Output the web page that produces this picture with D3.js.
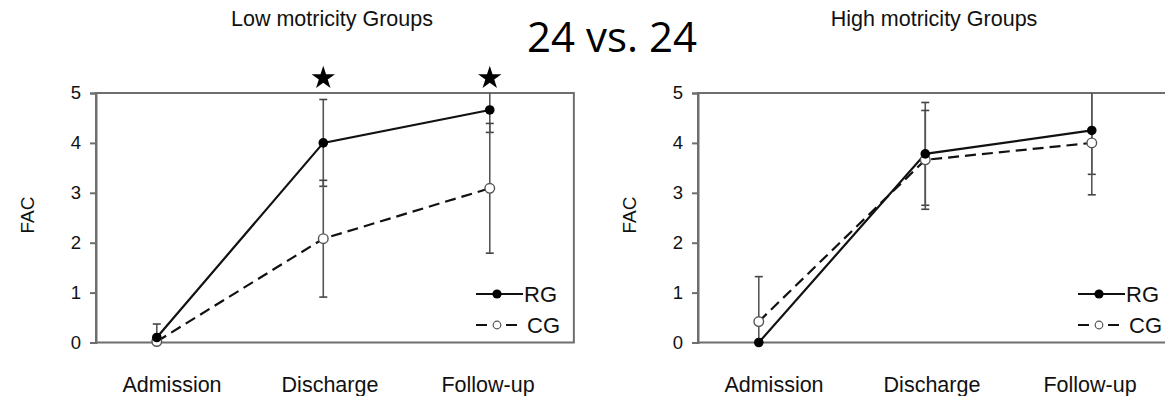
<!DOCTYPE html>
<html>
<head>
<meta charset="utf-8">
<script src="https://cdn.jsdelivr.net/npm/d3@7"></script>
<style>
  body { margin: 0; background: #fff; }
  svg text { font-family: "Liberation Sans", Arial, sans-serif; fill: #111; }
</style>
</head>
<body>
<svg id="chart" width="1165" height="396"></svg>
<script>
// ---- data
const categories = ["Admission", "Discharge", "Follow-up"];
const yTicks = [0, 1, 2, 3, 4, 5];

const lowRG = [0.1, 4.0, 4.66];
const lowRGsd = [0.27, 0.87, 0.45];
const lowCG = [0.02, 2.08, 3.09];
const lowCGsd = [0, 1.17, 1.3];
const lowStars = ["Discharge", "Follow-up"];

const highRG = [0.0, 3.78, 4.25];
const highRGsd = [0, 1.03, 0.88];
const highCG = [0.42, 3.66, 4.0];
const highCGsd = [0.9, 0.99, 1.04];
const highStars = [];

const svg = d3.select("#chart");

// big middle caption
svg.append("text")
  .attr("x", 612).attr("y", 52)
  .attr("text-anchor", "middle")
  .style("font-family", "'Open Sans', Carlito, sans-serif")
  .style("font-size", "42px")
  .style("fill", "#000")
  .text("24 vs. 24");

function drawPanel(left, title, rg, rgSd, cg, cgSd, stars) {
  const step = 166.5;
  const x = d3.scaleLinear().domain([-0.365, 2.505]).range([left, left + step * 2.87]);
  const y = d3.scaleLinear().domain([0, 5]).range([342.5, 93]);
  const xLab = d3.scaleLinear().domain([0, 2]).range([left + 76, left + 392]);
  const g = svg.append("g");

  // title
  g.append("text")
    .attr("x", left + 236).attr("y", 26)
    .attr("text-anchor", "middle")
    .style("font-size", "21.5px")
    .text(title);

  // frame (axis + box)
  g.append("rect")
    .attr("x", x(-0.365)).attr("y", y(5))
    .attr("width", x(2.505) - x(-0.365)).attr("height", y(0) - y(5))
    .attr("fill", "none").attr("stroke", "#6e6e6e").attr("stroke-width", 2);

  // y axis ticks
  const yAxis = d3.axisLeft(y).tickValues(yTicks).tickSize(6).tickPadding(9).tickFormat(d3.format("d"));
  const ax = g.append("g").attr("transform", `translate(${left},0)`).call(yAxis);
  ax.select(".domain").attr("stroke", "#6e6e6e").attr("stroke-width", 2);
  ax.selectAll(".tick line").attr("stroke", "#6e6e6e").attr("stroke-width", 2);
  ax.selectAll(".tick text").style("font-size", "18.5px")
    .style("font-family", "'Liberation Sans', Arial, sans-serif").attr("fill", "#111");

  // FAC label
  g.append("text")
    .attr("transform", `translate(${left - 62},215) rotate(-90)`)
    .attr("text-anchor", "middle")
    .style("font-size", "19px")
    .text("FAC");

  // category labels
  categories.forEach((c, i) => {
    g.append("text")
      .attr("x", xLab(i)).attr("y", 392)
      .attr("text-anchor", "middle")
      .style("font-size", "21.5px")
      .text(c);
  });

  // error bars (clipped to 0..5)
  function errBars(vals, sds) {
    vals.forEach((v, i) => {
      if (!sds[i]) return;
      const top = Math.min(5, v + sds[i]);
      const bot = Math.max(0, v - sds[i]);
      g.append("line")
        .attr("x1", x(i)).attr("x2", x(i)).attr("y1", y(top)).attr("y2", y(bot))
        .attr("stroke", "#555").attr("stroke-width", 1.6);
      [v + sds[i], v - sds[i]].forEach(e => {
        if (e > 5 || e < 0) return;
        g.append("line")
          .attr("x1", x(i) - 4).attr("x2", x(i) + 4).attr("y1", y(e)).attr("y2", y(e))
          .attr("stroke", "#444").attr("stroke-width", 1.6);
      });
    });
  }
  errBars(rg, rgSd);
  errBars(cg, cgSd);

  const line = d3.line().x((d, i) => x(i)).y(d => y(d));

  g.append("path").datum(cg).attr("d", line)
    .attr("fill", "none").attr("stroke", "#111").attr("stroke-width", 2.2)
    .attr("stroke-dasharray", "11,6");
  g.append("path").datum(rg).attr("d", line)
    .attr("fill", "none").attr("stroke", "#111").attr("stroke-width", 2.2);

  g.selectAll(".cg").data(cg).enter().append("circle")
    .attr("cx", (d, i) => x(i)).attr("cy", d => y(d)).attr("r", 4.8)
    .attr("fill", "#fff").attr("stroke", "#555").attr("stroke-width", 1.4);
  g.selectAll(".rg").data(rg).enter().append("circle")
    .attr("cx", (d, i) => x(i)).attr("cy", d => y(d)).attr("r", 4.8)
    .attr("fill", "#000");

  // significance stars
  stars.forEach(s => {
    const i = categories.indexOf(s);
    g.append("path")
      .attr("d", d3.symbol(d3.symbolStar, 170)())
      .attr("transform", `translate(${x(i)},78)`)
      .attr("fill", "#000");
  });

  // legend
  const lx = left + 380;
  g.append("line").attr("x1", lx).attr("x2", lx + 47).attr("y1", 294).attr("y2", 294)
    .attr("stroke", "#111").attr("stroke-width", 2.2);
  g.append("circle").attr("cx", lx + 21).attr("cy", 294).attr("r", 4.6).attr("fill", "#000");
  g.append("text").attr("x", lx + 48).attr("y", 302).style("font-size", "22px").text("RG");

  g.append("line").attr("x1", lx).attr("x2", lx + 41).attr("y1", 325).attr("y2", 325)
    .attr("stroke", "#111").attr("stroke-width", 2.2).attr("stroke-dasharray", "11,19,11");
  g.append("circle").attr("cx", lx + 21).attr("cy", 325).attr("r", 3.8)
    .attr("fill", "#fff").attr("stroke", "#555").attr("stroke-width", 1.2);
  g.append("text").attr("x", lx + 51).attr("y", 333).style("font-size", "22px").text("CG");
}

drawPanel(96, "Low motricity Groups", lowRG, lowRGsd, lowCG, lowCGsd, lowStars);
drawPanel(698, "High motricity Groups", highRG, highRGsd, highCG, highCGsd, highStars);
</script>
</body>
</html>
